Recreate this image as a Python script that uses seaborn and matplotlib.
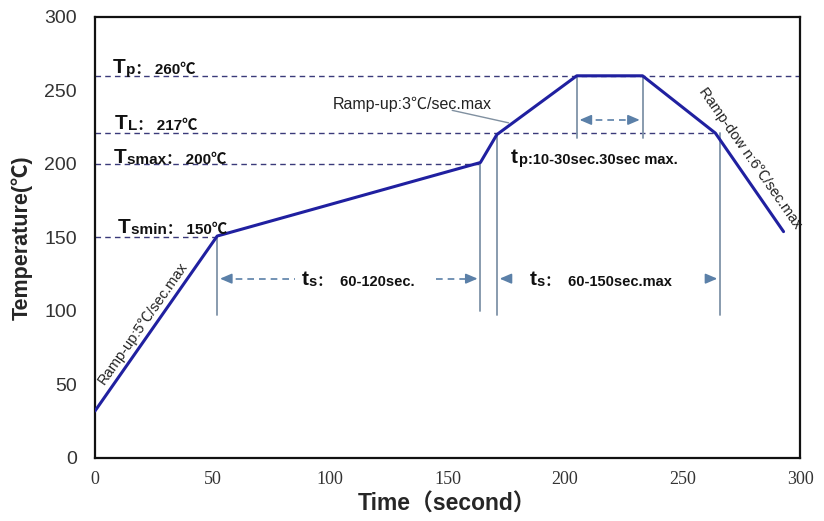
import matplotlib
matplotlib.use("Agg")
import matplotlib.pyplot as plt
import seaborn as sns
import pandas as pd

# ---- data ----
time_s = [0, 52, 164, 171, 205, 233, 264, 293]
temp_c = [32, 151, 201, 220, 260, 260, 221, 154]

# horizontal reference levels: (y, x_end)
level_y = [260, 221, 200, 150]
level_xend = [300, 264, 164, 52]

# vertical markers: (x, y_top, y_bottom)
vline_x = [52, 164, 171, 205, 233, 266]
vline_top = [151, 201, 220, 260, 260, 221]
vline_bot = [97, 100, 97, 218, 218, 97]

x_ticks = [0, 50, 100, 150, 200, 250, 300]
y_ticks = [0, 50, 100, 150, 200, 250, 300]

sns.set_style("white")
FAM = ["Liberation Sans", "Noto Sans CJK SC", "DejaVu Sans"]
plt.rcParams["font.family"] = FAM

fig = plt.figure(figsize=(8.24, 5.21), dpi=100)
ax = fig.add_axes([95/824, 1-458/521, 705/824, 441/521])

df = pd.DataFrame({"time": time_s, "temp": temp_c})
sns.lineplot(data=df, x="time", y="temp", ax=ax, color="#2020a0", lw=2.2,
             sort=False, zorder=5)

dash_c = "#3a3a7a"
for y, xe in zip(level_y, level_xend):
    ax.plot([0, xe], [y, y], ls=(0, (4, 3)), color=dash_c, lw=1.0, zorder=2)

vc = "#7f93a8"
for x, t, b in zip(vline_x, vline_top, vline_bot):
    ax.plot([x, x], [b, t], color=vc, lw=1.3, zorder=3)

ac = "#5b80a8"
ap = dict(arrowstyle="-|>,head_length=0.7,head_width=0.3", color=ac, lw=1.2)
ya = 122
# ts 60-120
ax.plot([55, 85], [ya, ya], ls=(0, (4, 3)), color=ac, lw=1.2)
ax.annotate("", xy=(52, ya), xytext=(58, ya), arrowprops=ap)
ax.plot([145, 160], [ya, ya], ls=(0, (4, 3)), color=ac, lw=1.2)
ax.annotate("", xy=(164, ya), xytext=(157, ya), arrowprops=ap)
# ts 60-150
ax.annotate("", xy=(171, ya), xytext=(178, ya), arrowprops=ap)
ax.annotate("", xy=(266, ya), xytext=(259, ya), arrowprops=ap)
# tp
yt = 230
ax.plot([208, 230], [yt, yt], ls=(0, (4, 3)), color=ac, lw=1.2)
ax.annotate("", xy=(205, yt), xytext=(211, yt), arrowprops=ap)
ax.annotate("", xy=(233, yt), xytext=(227, yt), arrowprops=ap)

# leader line for Ramp-up:3
ax.plot([152, 176], [236.5, 228], color="#8090a0", lw=1.0)


def label(x, y, big, sub, rest, big_size=15, small_size=10.5):
    t = ax.text(x, y, big, fontsize=big_size, fontweight="bold", family=FAM,
                va="baseline", ha="left", color="#111111", zorder=6)
    ax.annotate(sub + rest, xy=(1, 0), xycoords=t, xytext=(0.5, 0),
                textcoords="offset points", fontsize=small_size,
                fontweight="bold", family=FAM, va="bottom", ha="left",
                color="#111111", zorder=6)


label(7.5, 262, "T", "p", "： 260℃", small_size=11)
label(8.5, 224, "T", "L", "： 217℃", small_size=11)
label(8.0, 201, "T", "smax", "： 200℃", small_size=11)
label(9.5, 153, "T", "smin", "： 150℃", small_size=11)
label(88, 118, "t", "s", "：  60-120sec.")
label(185, 118, "t", "s", "：  60-150sec.max")
label(177, 201, "t", "p", ":10-30sec.30sec max.")

ax.text(135, 240.5, "Ramp-up:3℃/sec.max", fontsize=11.5, family=FAM,
        ha="center", va="center", color="#222222")
ax.text(20.5, 92, "Ramp-up:5℃/sec.max", fontsize=10.5, family=FAM,
        ha="center", va="center", rotation=55, rotation_mode="anchor",
        color="#222222")
ax.text(279, 204, "Ramp-dow n:6℃/sec.max", fontsize=10.5, family=FAM,
        ha="center", va="center", rotation=-55, rotation_mode="anchor",
        color="#222222")

ax.set_xlim(0, 300)
ax.set_ylim(0, 300)
ax.set_xticks(x_ticks)
ax.set_yticks(y_ticks)
ax.set_xticks(range(25, 300, 50), minor=True)
ax.set_yticks(range(25, 300, 50), minor=True)
ax.tick_params(axis="both", which="both", direction="in", length=4,
               color="#999999", width=0.8)
ax.tick_params(axis="x", which="major", pad=9)
ax.tick_params(axis="y", which="major", pad=13)
for lab in ax.get_yticklabels():
    lab.set_fontsize(14)
    lab.set_family("Liberation Sans")
    lab.set_color("#333333")
for lab in ax.get_xticklabels():
    lab.set_fontsize(13)
    lab.set_family("Liberation Serif")
    lab.set_color("#333333")

for s in ax.spines.values():
    s.set_color("#111111")
    s.set_linewidth(1.6)

ax.set_xlabel("Time（second）", fontsize=16.5, fontweight="bold", family=FAM,
              labelpad=4)
ax.set_ylabel("Temperature(℃)", fontsize=15.5, fontweight="bold", family=FAM,
              labelpad=8)

fig.savefig("out.png", dpi=100)
